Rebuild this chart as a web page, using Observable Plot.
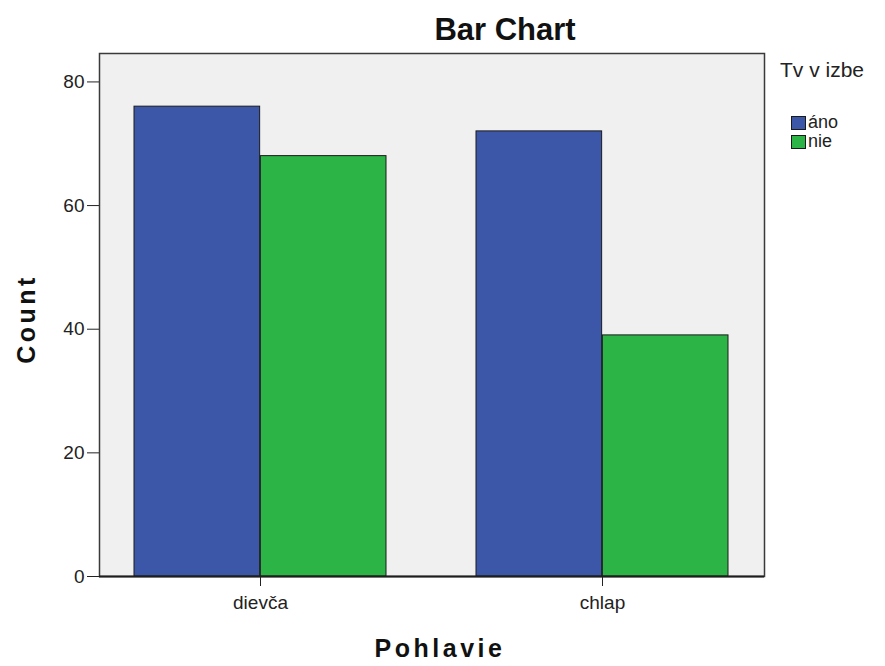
<!DOCTYPE html>
<html>
<head>
<meta charset="utf-8">
<script src="https://cdn.jsdelivr.net/npm/d3@7"></script>
<script src="https://cdn.jsdelivr.net/npm/@observablehq/plot@0.6"></script>
<style>
  html, body { margin: 0; padding: 0; background: #fff; }
  #wrap { position: relative; width: 885px; height: 666px; font-family: "Liberation Sans", Arial, sans-serif; }
  #legend { position: absolute; left: 780px; top: 57px; color: #222; }
  #legend .ttl { font-size: 21px; line-height: 25px; margin-bottom: 31px; }
  #legend .item { display: flex; align-items: center; height: 19px; font-size: 18px; }
  #legend .sw { width: 15px; height: 14px; border: 1px solid #1a1a1a; box-sizing: border-box; margin-right: 2px; margin-left: 11px; }
</style>
</head>
<body>
<div id="wrap"></div>
<script>
const categories = ["dievča", "chlap"];
const series = ["áno", "nie"];
const anoValues = [76, 72];
const nieValues = [68, 39];
const yTicks = [0, 20, 40, 60, 80];
const colors = ["#3d57a8", "#2db446"];
const chartTitle = "Bar Chart";
const xTitle = "Pohlavie";
const yTitle = "Count";
const legendTitle = "Tv v izbe";

const data = [];
categories.forEach((c, i) => {
  data.push({cat: c, series: series[0], count: anoValues[i]});
  data.push({cat: c, series: series[1], count: nieValues[i]});
});

const W = 885, H = 666;
const mL = 99, mR = 121, mT = 53, mB = 90;
const pInner = 0.262, pOuter = 0.102;
const rangeW = W - mL - mR;
const step = rangeW / (categories.length - pInner + 2 * pOuter);
const bw = step * (1 - pInner);

const plot = Plot.plot({
  width: W,
  height: H,
  marginLeft: mL,
  marginRight: mR,
  marginTop: mT,
  marginBottom: mB,
  style: {fontSize: "19px", fontFamily: "'Liberation Sans', Arial, sans-serif", color: "#222", background: "transparent"},
  x: {type: "band", domain: categories, paddingInner: pInner, paddingOuter: pOuter, align: 0.5, label: null, tickSize: 10, tickPadding: 9},
  y: {domain: [0, 84.6], ticks: yTicks, label: null, tickSize: 12, tickPadding: 3},
  color: {domain: series, range: colors},
  marks: [
    Plot.frame({fill: "#f0f0f0", stroke: "#3a3a3a", strokeWidth: 1.5}),
    Plot.barY(data.filter(d => d.series === series[0]), {x: "cat", y: "count", fill: "series", stroke: "#1a1a1a", strokeWidth: 1, insetRight: bw / 2}),
    Plot.barY(data.filter(d => d.series === series[1]), {x: "cat", y: "count", fill: "series", stroke: "#1a1a1a", strokeWidth: 1, insetLeft: bw / 2}),
    Plot.ruleY([0], {stroke: "#1e1e1e", strokeWidth: 2}),
    Plot.text([chartTitle], {frameAnchor: "top", textAnchor: "middle", dx: 73, dy: -23, lineAnchor: "middle", fontSize: 31, fontWeight: "bold", fill: "#111"}),
    Plot.text([xTitle], {frameAnchor: "bottom", textAnchor: "middle", dx: 8, dy: 72, lineAnchor: "middle", fontSize: 25, fontWeight: "bold", fill: "#111"}),
    Plot.text([yTitle], {frameAnchor: "left", textAnchor: "middle", dx: -73, dy: 4, rotate: -90, lineAnchor: "middle", fontSize: 25, fontWeight: "bold", fill: "#111"})
  ]
});

d3.select(plot).selectAll("text").filter(function() {
  const t = this.textContent;
  return t === xTitle || t === yTitle;
}).attr("letter-spacing", "3.5px");

const wrap = document.getElementById("wrap");
plot.style.position = "absolute";
plot.style.left = "0px";
plot.style.top = "0px";
wrap.appendChild(plot);

const leg = document.createElement("div");
leg.id = "legend";
let html = `<div class="ttl">${legendTitle}</div>`;
series.forEach((s, i) => {
  html += `<div class="item"><div class="sw" style="background:${colors[i]}"></div><span>${s}</span></div>`;
});
leg.innerHTML = html;
wrap.appendChild(leg);
</script>
</body>
</html>
